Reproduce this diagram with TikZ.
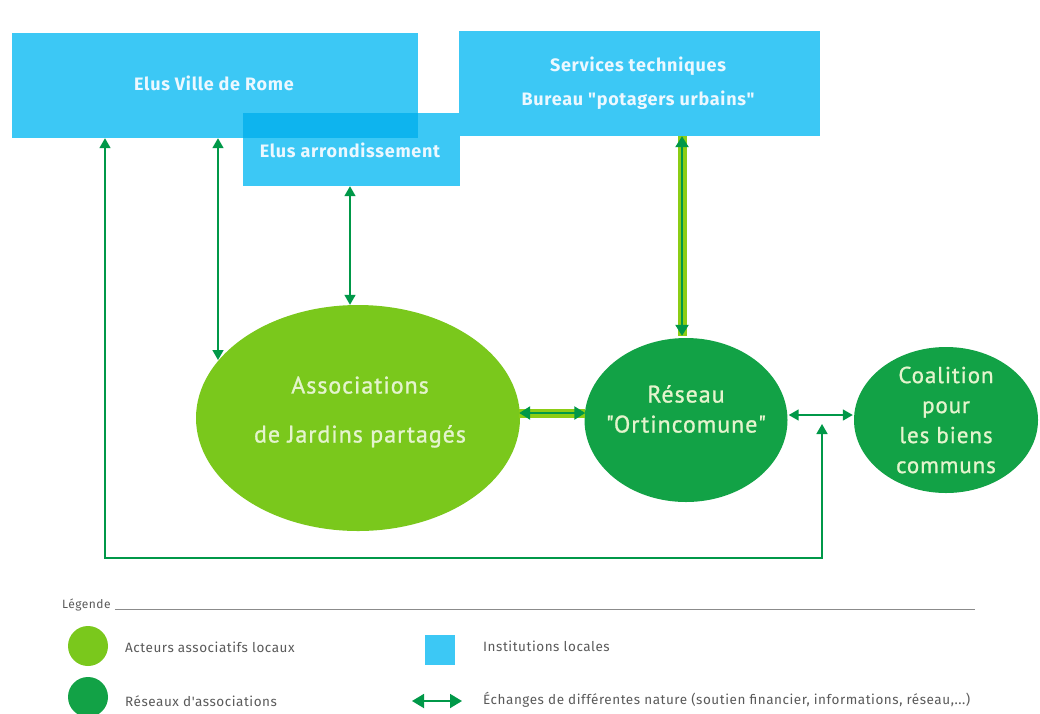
\documentclass[tikz,border=0pt]{standalone}
\usepackage{fontspec}
\setmainfont{PT Sans}
\newfontfamily\boxfont[LetterSpace=4]{Fira Sans}
\newfontfamily\ellfont[LetterSpace=4,FakeBold=1]{PT Sans}
\newfontfamily\legfont[LetterSpace=4]{Fira Sans}
\usetikzlibrary{arrows.meta,shapes.geometric}
\definecolor{instblue}{RGB}{60,200,245}
\definecolor{overblue}{RGB}{14,180,238}
\definecolor{lgreen}{RGB}{122,200,28}
\definecolor{dgreen}{RGB}{18,162,70}
\definecolor{arrgreen}{RGB}{0,152,72}
\definecolor{bandgreen}{RGB}{140,205,20}
\definecolor{txtw}{RGB}{236,248,255}
\definecolor{txtc}{RGB}{228,244,205}
\definecolor{leggray}{RGB}{90,90,90}
\begin{document}
\begin{tikzpicture}[x=1pt,y=-1pt,
  inst/.style={rectangle, fill=instblue, draw=none, inner sep=0pt},
  insttext/.style={text=txtw, align=center, inner sep=0pt, font=\boxfont\bfseries\fontsize{18}{34}\selectfont},
  assoc/.style={ellipse, fill=lgreen, draw=none, inner sep=0pt},
  netw/.style={ellipse, fill=dgreen, draw=none, inner sep=0pt},
  elltext/.style={text=txtc, align=center, inner sep=0pt},
  link/.style={draw=arrgreen, line width=1.6pt, {Triangle[width=11pt,length=10pt]}-{Triangle[width=11pt,length=10pt]}},
  leglink/.style={draw=arrgreen, line width=1.8pt, {Triangle[width=14pt,length=12pt]}-{Triangle[width=14pt,length=12pt]}},
  bandlink/.style={draw=bandgreen, line width=9pt},
  bandcore/.style={draw=arrgreen, line width=2.4pt, {Triangle[width=13pt,length=11pt]}-{Triangle[width=13pt,length=11pt]}},
  legtext/.style={anchor=west, text=leggray, font=\legfont\fontsize{13.5}{15}\selectfont, inner sep=0pt},
]
\useasboundingbox (0,0) rectangle (1040,713);
\fill[white] (0,0) rectangle (1040,713);

% institutions
\node[inst, minimum width=406pt, minimum height=105pt] (rome) at (215,85.5) {};
\node[inst, minimum width=361pt, minimum height=105pt] (serv) at (639.5,83.5) {};
\node[inst, minimum width=217pt, minimum height=73pt] (arr) at (351.5,149.5) {};
\fill[overblue] (243,113) rectangle (418,138);
\node[insttext] (rometext) at (214,83) {Elus Ville de Rome};
\node[insttext] (servtext) at (638,83) {Services techniques\\Bureau \symbol{34}potagers urbains\symbol{34}};
\node[insttext] (arrtext) at (350,150) {Elus arrondissement};

% associations
\node[assoc, minimum width=324pt, minimum height=226pt] (jard) at (358,418) {};
\node[elltext, font=\ellfont\fontsize{24}{49}\selectfont] (jardtext) at (360,412) {Associations\\de Jardins partagés};
\node[netw, minimum width=203pt, minimum height=164pt] (res) at (686,420) {};
\node[elltext, font=\ellfont\fontsize{24}{30}\selectfont] (restext) at (686,409) {Réseau\\\symbol{34}Ortincomune\symbol{34}};
\node[netw, minimum width=184pt, minimum height=146pt] (coal) at (946,420) {};
\node[elltext, font=\ellfont\fontsize{23}{30}\selectfont] (coaltext) at (946,420) {Coalition\\pour\\les biens\\communs};

% links
\coordinate (bx) at (682,0);
\coordinate (hy) at (0,413);
\coordinate (ry) at (0,415);
\draw[link] ([xshift=-110pt]rome.south) -- (105,558) -- (822,558) -- (822,424);
\draw[link] ([xshift=3pt]rome.south) -- (218,360);
\draw[link] ([xshift=-1.5pt]arr.south) -- (jard.north -| arrtext.center);
\draw[bandlink] (serv.south -| bx) -- ([yshift=2pt]res.north -| bx);
\draw[bandcore] (serv.south -| bx) -- ([yshift=2pt]res.north -| bx);
\draw[bandlink] ([xshift=-1pt]jard.east |- hy) -- ([xshift=1pt]res.west |- hy);
\draw[bandcore] ([xshift=-1pt]jard.east |- hy) -- ([xshift=1pt]res.west |- hy);
\draw[link] ([xshift=1pt]res.east |- ry) -- ([xshift=-1pt]coal.west |- ry);

% legend
\node[legtext, font=\legfont\fontsize{12}{14}\selectfont] (leg) at (62,605) {Légende};
\draw[leggray!70, line width=0.7pt] ([xshift=4pt]leg.east |- 0,609) -- (975,609);
\fill[lgreen] (88,646) circle (20);
\node[legtext] (l1) at (125,647) {Acteurs associatifs locaux};
\fill[dgreen] (88,697) circle (20);
\node[legtext] (l2) at (125,701) {Réseaux d'associations};
\fill[instblue] (425,635) rectangle (455,665);
\node[legtext] (l3) at (483,646) {Institutions locales};
\coordinate (la) at (412,701);
\coordinate (lb) at (462,701);
\draw[leglink] (la) -- (lb);
\node[legtext] (l4) at (483,700) {Échanges de différentes nature (soutien financier, informations, réseau,...)};
\end{tikzpicture}
\end{document}
